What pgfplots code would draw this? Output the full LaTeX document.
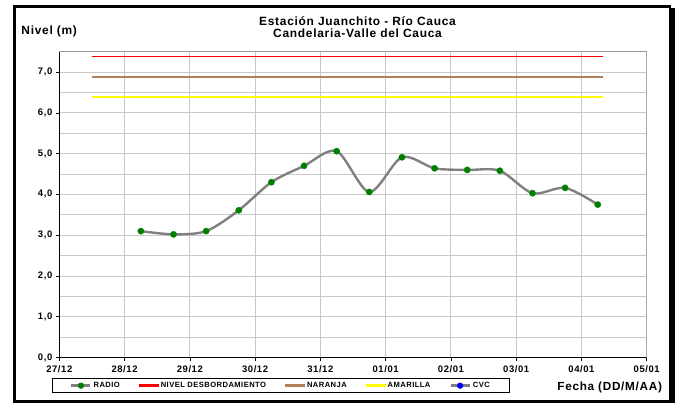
\documentclass[border=0pt]{standalone}
\usepackage{pgfplots}
\pgfplotsset{compat=1.18}
\usepackage{fontspec}
\setmainfont{Liberation Sans}[LetterSpace=6]
\definecolor{radio}{RGB}{128,128,128}
\definecolor{verde}{RGB}{0,128,0}
\definecolor{naranja}{RGB}{176,128,88}
\definecolor{amarilla}{RGB}{255,255,0}
\definecolor{rojo}{RGB}{255,0,0}
\definecolor{grilla}{RGB}{200,200,200}

\begin{document}
\begin{tikzpicture}
\useasboundingbox (0,0) rectangle (683bp,403bp);
% marco exterior
\fill[black] (13bp,0bp) rectangle (16bp,398bp);
\fill[black] (13bp,395bp) rectangle (671bp,398bp);
\fill[black] (669bp,0bp) rectangle (675bp,395bp);
\fill[black] (13bp,0bp) rectangle (675bp,3bp);

\begin{axis}[
  at={(59.3bp,45.5bp)},
  anchor=south west,
  scale only axis,
  width=587.4bp,
  height=305.8bp,
  xmin=0, xmax=9,
  ymin=0, ymax=7.5,
  axis x line*=bottom,
  axis y line*=left,
  axis line style={-, black, line width=0.8bp},
  xtick={0,1,...,9},
  xticklabels={27/12,28/12,29/12,30/12,31/12,01/01,02/01,03/01,04/01,05/01},
  ytick={0,1,...,7},
  yticklabels={{0,0},{1,0},{2,0},{3,0},{4,0},{5,0},{6,0},{7,0}},
  minor ytick={0.5,1.5,...,7.5},
  minor tick length=0pt,
  tick align=outside,
  major tick length=3.5bp,
  tick style={black, line width=0.6bp},
  grid=both,
  major grid style={grilla, line width=0.9bp},
  minor grid style={grilla, line width=0.9bp},
  ticklabel style={font=\fontsize{9.5}{10}\selectfont\bfseries},
  xticklabel style={yshift=-1bp},
  legend columns=5,
  legend cell align=left,
  legend style={
    at={(-0.0129,-0.068)}, anchor=north west,
    draw=black, line width=1bp, fill=white,
    font=\fontsize{7.6}{8}\selectfont\bfseries,
    inner xsep=18bp, inner ysep=1.5bp,
    /tikz/every even column/.append style={column sep=17bp},
  },
]
\addplot[radio, line width=2.4bp, smooth, tension=0.5, mark=*, mark size=3.2bp,
  mark options={verde, fill=verde, line width=0.2bp}, forget plot] coordinates {
  (1.25,3.10) (1.75,3.02) (2.25,3.10) (2.75,3.61) (3.25,4.30)
  (3.75,4.70) (4.25,5.06) (4.75,4.06) (5.25,4.91) (5.75,4.64)
  (6.25,4.60) (6.75,4.58) (7.25,4.03) (7.75,4.16) (8.25,3.75)
};
\addplot[rojo, line width=1.6bp, forget plot] coordinates {(0.5,7.38) (8.33,7.38)};
\addplot[naranja, line width=1.6bp, forget plot] coordinates {(0.5,6.88) (8.33,6.88)};
\addplot[amarilla, line width=2bp, forget plot] coordinates {(0.5,6.38) (8.33,6.38)};

\addlegendimage{legend image code/.code={
  \draw[radio, line width=2.4bp] (0bp,0bp) -- (19bp,0bp);
  \fill[verde] (9.5bp,0bp) circle (2.6bp);}}
\addlegendentry{RADIO}
\addlegendimage{legend image code/.code={\fill[rojo] (0bp,-1bp) rectangle (19bp,1bp);}}
\addlegendentry{NIVEL DESBORDAMIENTO}
\addlegendimage{legend image code/.code={\fill[naranja] (0bp,-1bp) rectangle (19bp,1bp);}}
\addlegendentry{NARANJA}
\addlegendimage{legend image code/.code={\fill[amarilla] (0bp,-1bp) rectangle (19bp,1bp);}}
\addlegendentry{AMARILLA}
\addlegendimage{legend image code/.code={
  \draw[radio, line width=2.4bp] (0bp,0bp) -- (19bp,0bp);
  \fill[blue] (9.5bp,0bp) circle (2.6bp);}}
\addlegendentry{CVC}
\draw[gray!80, line width=1.2bp] (rel axis cs:0,1) -- (rel axis cs:1,1) -- (rel axis cs:1,0);
\end{axis}

\node[font=\fontsize{12}{12.6}\selectfont\bfseries, align=center] at (357.5bp,376bp)
  {Estación Juanchito - Río Cauca\\Candelaria-Valle del Cauca};
\node[font=\fontsize{12}{13}\selectfont\bfseries] at (49.2bp,372bp) {Nivel (m)};
\node[font=\fontsize{11.8}{13}\selectfont\bfseries] at (609.7bp,16bp) {Fecha (DD/M/AA)};
\end{tikzpicture}
\end{document}
